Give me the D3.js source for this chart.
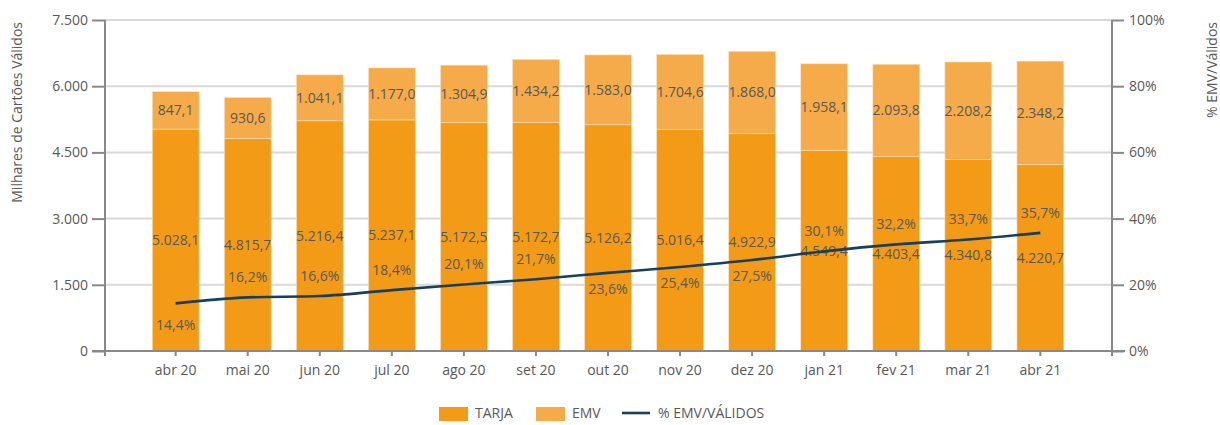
<!DOCTYPE html>
<html>
<head>
<meta charset="utf-8">
<script src="https://cdn.jsdelivr.net/npm/d3@7"></script>
<style>
  body { margin: 0; background: #fff; }
  svg { font-family: "Open Sans", sans-serif; }
</style>
</head>
<body>
<svg id="chart" width="1220" height="425"></svg>
<script>
// chart data
const months = ["abr 20", "mai 20", "jun 20", "jul 20", "ago 20", "set 20", "out 20",
                "nov 20", "dez 20", "jan 21", "fev 21", "mar 21", "abr 21"];
const tarja = [5028.1, 4815.7, 5216.4, 5237.1, 5172.5, 5172.7, 5126.2, 5016.4, 4922.9, 4549.4, 4403.4, 4340.8, 4220.7];
const emv = [847.1, 930.6, 1041.1, 1177.0, 1304.9, 1434.2, 1583.0, 1704.6, 1868.0, 1958.1, 2093.8, 2208.2, 2348.2];
const pctEmv = [14.4, 16.2, 16.6, 18.4, 20.1, 21.7, 23.6, 25.4, 27.5, 30.1, 32.2, 33.7, 35.7];
const pctSide = ["below", "above", "above", "above", "above", "above", "below", "below", "below", "above", "above", "above", "above"];
const leftTicks = [0, 1500, 3000, 4500, 6000, 7500];
const rightTicks = [0, 20, 40, 60, 80, 100];

const colTarja = "#f39a17", colEmv = "#f5ab49", colLine = "#173f5f";
const textCol = "#595959", axisCol = "#898989", gridCol = "#d9d9d9";

const svg = d3.select("#chart");
const plotLeft = 105, plotRight = 1112, plotTop = 20, plotBottom = 351;

const x = d3.scaleBand().domain(months).range([140, 1076]).paddingInner(0.35).paddingOuter(0.17);
const y = d3.scaleLinear().domain([0, 7500]).range([plotBottom, plotTop]);
const yr = d3.scaleLinear().domain([0, 100]).range([plotBottom, plotTop]);

const fmt = d3.formatLocale({decimal: ",", thousands: ".", grouping: [3], currency: ["", ""]});
const fmtVal = fmt.format(",.1f");
const fmtTick = fmt.format(",");

// gridlines
svg.append("g").selectAll("line")
  .data(leftTicks.filter(d => d > 0))
  .enter().append("line")
    .attr("x1", plotLeft).attr("x2", plotRight)
    .attr("y1", d => y(d)).attr("y2", d => y(d))
    .attr("stroke", gridCol).attr("stroke-width", 2);

// stacked bars
const rows = months.map((m, i) => ({m, tarja: tarja[i], emv: emv[i]}));
const series = d3.stack().keys(["tarja", "emv"])(rows);
const colors = {tarja: colTarja, emv: colEmv};

series.forEach(s => {
  svg.append("g").selectAll("rect")
    .data(s)
    .enter().append("rect")
      .attr("x", d => x(d.data.m))
      .attr("width", x.bandwidth())
      .attr("y", d => y(d[1]))
      .attr("height", d => y(d[0]) - y(d[1]))
      .attr("fill", colors[s.key])
      .attr("stroke", "#fbe3c2").attr("stroke-width", 0.6);

  svg.append("g").selectAll("text")
    .data(s)
    .enter().append("text")
      .attr("x", d => x(d.data.m) + x.bandwidth() / 2)
      .attr("y", d => y((d[0] + d[1]) / 2))
      .attr("dy", "0.35em")
      .attr("text-anchor", "middle")
      .attr("font-size", 14)
      .attr("fill", textCol)
      .text(d => fmtVal(d.data[s.key]));
});

// axes
const gL = svg.append("g").attr("transform", `translate(${plotLeft},0)`)
  .call(d3.axisLeft(y).tickValues(leftTicks).tickFormat(fmtTick).tickSize(13).tickPadding(4));
const gR = svg.append("g").attr("transform", `translate(${plotRight},0)`)
  .call(d3.axisRight(yr).tickValues(rightTicks).tickFormat(d => d + "%").tickSize(12).tickPadding(5));
const gX = svg.append("g").attr("transform", `translate(0,${plotBottom})`)
  .call(d3.axisBottom(x).tickSize(5).tickPadding(9));
gX.select(".domain").attr("d", `M92,0H1125`);

[gL, gR, gX].forEach(g => {
  g.select(".domain").attr("stroke", axisCol).attr("stroke-width", 2);
  g.selectAll(".tick line").attr("stroke", axisCol).attr("stroke-width", 2);
  g.selectAll(".tick text").attr("fill", textCol).attr("font-size", 14)
    .attr("font-family", "Open Sans, sans-serif");
});
gL.select(".domain").attr("d", `M0,${plotTop}V${plotBottom + 5}`);
gR.select(".domain").attr("d", `M0,${plotTop}V${plotBottom + 5}`);

// percentage line
const line = d3.line()
  .x((d, i) => x(months[i]) + x.bandwidth() / 2)
  .y(d => yr(d))
  .curve(d3.curveMonotoneX);
svg.append("path").datum(pctEmv)
  .attr("d", line)
  .attr("fill", "none")
  .attr("stroke", colLine)
  .attr("stroke-width", 2.6);

svg.append("g").selectAll("text")
  .data(pctEmv)
  .enter().append("text")
    .attr("x", (d, i) => x(months[i]) + x.bandwidth() / 2)
    .attr("y", (d, i) => yr(d) + (pctSide[i] === "above" ? -20 : (i === 0 ? 22 : 16)))
    .attr("dy", "0.35em")
    .attr("text-anchor", "middle")
    .attr("font-size", 14)
    .attr("fill", textCol)
    .text(d => fmt.format(".1f")(d) + "%");

// axis titles
svg.append("text")
  .attr("transform", "translate(22,22) rotate(-90)")
  .attr("text-anchor", "end")
  .attr("font-size", 14)
  .attr("fill", textCol)
  .text("Milhares de Cartões Válidos");
svg.append("text")
  .attr("transform", "translate(1217,22) rotate(-90)")
  .attr("text-anchor", "end")
  .attr("font-size", 14)
  .attr("fill", textCol)
  .text("% EMV/Válidos");

// legend
const legend = svg.append("g");
const legendY = 413;
const legendItems = [
  {label: "TARJA", type: "rect", color: colTarja, x: 439},
  {label: "EMV", type: "rect", color: colEmv, x: 536},
  {label: "% EMV/VÁLIDOS", type: "line", color: colLine, x: 622}
];
legendItems.forEach(d => {
  if (d.type === "rect") {
    legend.append("rect").attr("x", d.x).attr("y", legendY - 6).attr("width", 29).attr("height", 14).attr("fill", d.color);
  } else {
    legend.append("line").attr("x1", d.x).attr("x2", d.x + 28).attr("y1", legendY).attr("y2", legendY)
      .attr("stroke", d.color).attr("stroke-width", 2.6);
  }
  legend.append("text")
    .attr("x", d.x + 36)
    .attr("y", legendY).attr("dy", "0.35em")
    .attr("font-size", 14).attr("fill", textCol)
    .text(d.label);
});
</script>
</body>
</html>
